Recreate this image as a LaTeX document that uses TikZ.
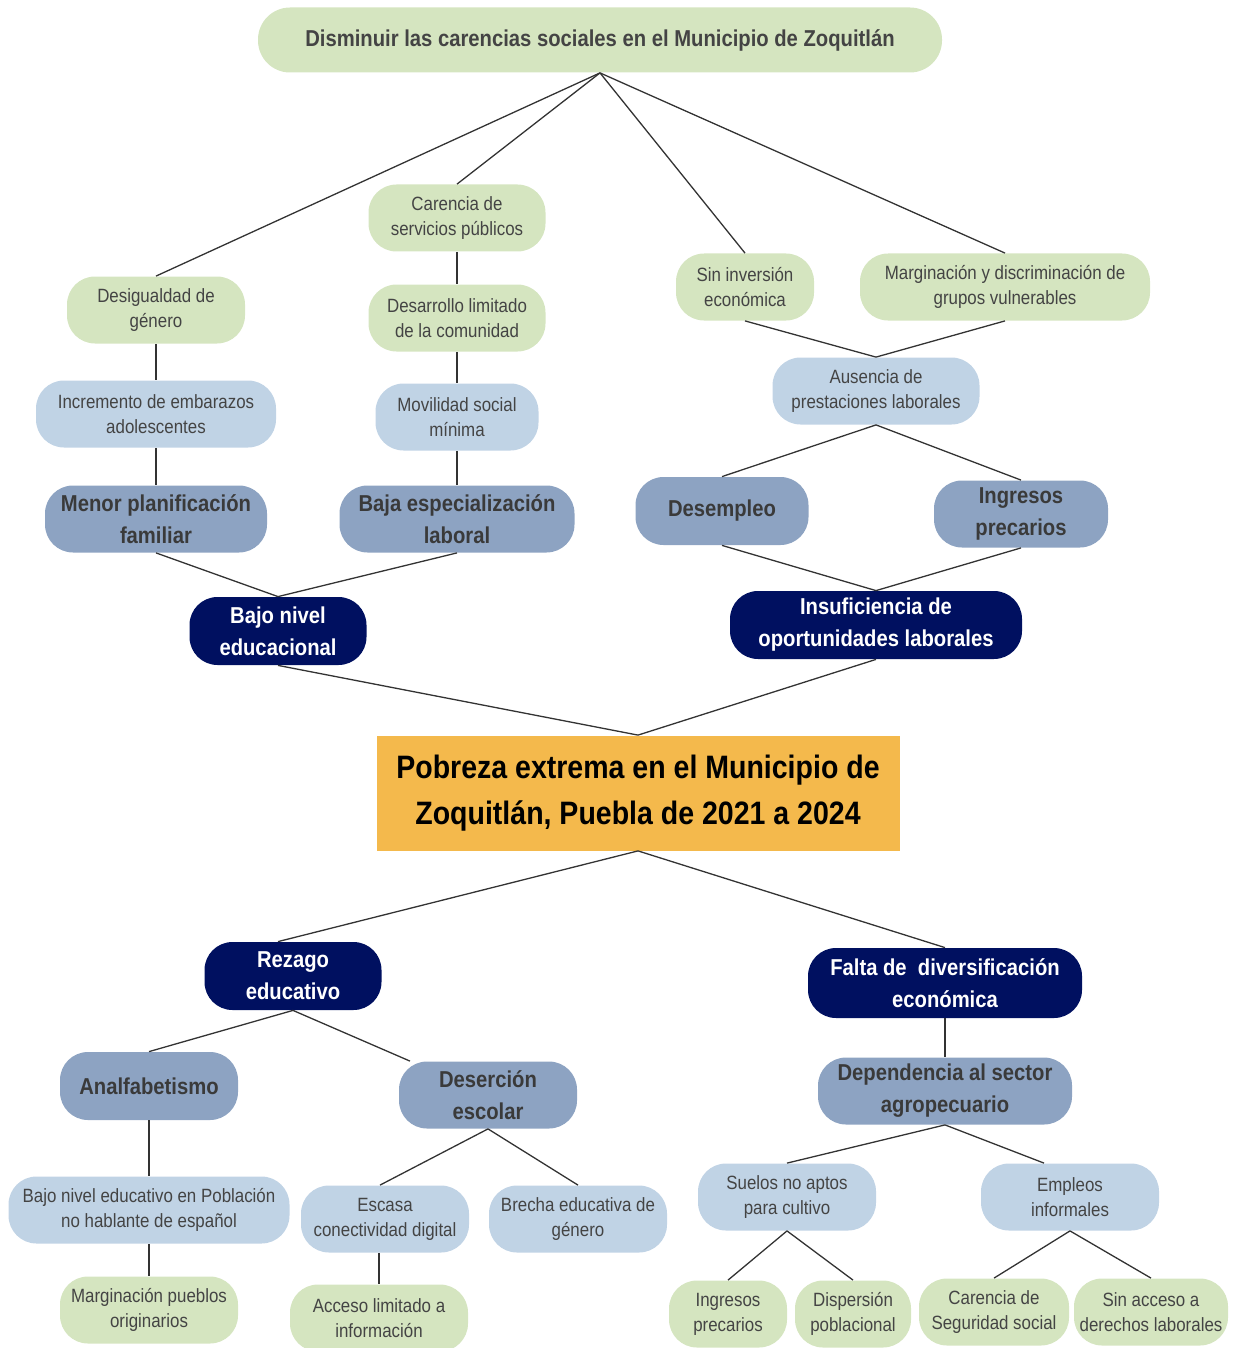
\documentclass[tikz,border=0pt]{standalone}
\usepackage{fontspec}
\setmainfont{Liberation Sans}[FakeStretch=0.88]
\usepackage{tikz}

\definecolor{verde}{HTML}{D5E5C0}
\definecolor{celeste}{HTML}{C0D3E5}
\definecolor{grisazul}{HTML}{8DA3C2}
\definecolor{marino}{HTML}{001060}
\definecolor{naranja}{HTML}{F4B94C}
\definecolor{texto}{HTML}{444444}
\definecolor{linea}{HTML}{333333}

\tikzset{
	caja/.style={rounded corners=14pt, minimum height=33.5pt, align=center, inner sep=1pt},
	hoja/.style={caja, fill=verde, text=texto, font=\fontsize{9.6}{12.5}\selectfont},
	rama/.style={caja, fill=celeste, text=texto, font=\fontsize{9.6}{12.5}\selectfont},
	causa/.style={caja, fill=grisazul, text=texto!85!black, font=\fontsize{11.5}{16}\selectfont\bfseries},
	efecto/.style={caja, fill=marino, text=white, font=\fontsize{11.5}{16}\selectfont\bfseries},
	every edge/.style={draw=linea, line width=0.65pt}
}

\begin{document}
\begin{tikzpicture}[x=0.5pt, y=-0.5pt]
	\useasboundingbox (0,0) rectangle (1235,1348);

	% objetivo
	\node[hoja, minimum width=342pt, minimum height=32.5pt, rounded corners=16pt, font=\fontsize{11.5}{13}\selectfont\bfseries] (titulo) at (600,40) {Disminuir las carencias sociales en el Municipio de Zoquitlán};

	% rama izquierda superior
	\node[hoja, minimum width=89pt] (desig) at (156,310) {Desigualdad de\\género};
	\node[rama, minimum width=120pt] (embarazos) at (156,414) {Incremento de embarazos\\adolescentes};
	\node[causa, minimum width=111pt] (planif) at (156,519) {Menor planificación\\familiar};
	\node[hoja, minimum width=88.5pt] (servicios) at (457,218) {Carencia de\\servicios públicos};
	\node[hoja, minimum width=88.5pt] (desarrollo) at (457,318) {Desarrollo limitado\\de la comunidad};
	\node[rama, minimum width=81.5pt] (movilidad) at (457,417) {Movilidad social\\mínima};
	\node[causa, minimum width=117.5pt] (especial) at (457,519) {Baja especialización\\laboral};
	\node[efecto, minimum width=88.5pt, minimum height=34pt] (bajonivel) at (278,631) {Bajo nivel\\educacional};

	% rama derecha superior
	\node[hoja, minimum width=69pt] (inversion) at (745,287) {Sin inversión\\económica};
	\node[hoja, minimum width=145pt] (margina) at (1005,287) {Marginación y discriminación de\\grupos vulnerables};
	\node[rama, minimum width=103.5pt] (prestac) at (876,391) {Ausencia de\\prestaciones laborales};
	\node[causa, minimum width=86.5pt, minimum height=34pt] (desempleo) at (722,511) {Desempleo};
	\node[causa, minimum width=87pt] (ingresos) at (1021,514) {Ingresos\\precarios};
	\node[efecto, minimum width=146pt, minimum height=34pt] (insuf) at (876,625) {Insuficiencia de\\oportunidades laborales};

	% problema central
	\node[fill=naranja, minimum width=261.5pt, minimum height=57.5pt, align=center, font=\fontsize{16.2}{23}\selectfont\bfseries] (pobreza) at (638,793) {Pobreza extrema en el Municipio de\\Zoquitlán, Puebla de 2021 a 2024};

	% rama izquierda inferior
	\node[efecto, minimum width=88.5pt, minimum height=34pt] (rezago) at (293,976) {Rezago\\educativo};
	\node[causa, minimum width=89pt, minimum height=34pt] (analfa) at (149,1086) {Analfabetismo};
	\node[causa, minimum width=89pt] (desercion) at (488,1095) {Deserción\\escolar};
	\node[rama, minimum width=140.5pt] (nohabla) at (149,1210) {Bajo nivel educativo en Población\\no hablante de español};
	\node[hoja, minimum width=89pt] (pueblos) at (149,1310) {Marginación pueblos\\originarios};
	\node[rama, minimum width=84pt] (conect) at (385,1219) {Escasa\\conectividad digital};
	\node[rama, minimum width=89pt] (brecha) at (578,1219) {Brecha educativa de\\género};
	\node[hoja, minimum width=89pt] (acceso) at (379,1318) {Acceso limitado a\\información};

	% rama derecha inferior
	\node[efecto, minimum width=137pt, minimum height=35pt] (diversif) at (945,983) {Falta de~ diversificación\\económica};
	\node[causa, minimum width=127pt] (agro) at (945,1091) {Dependencia al sector\\agropecuario};
	\node[rama, minimum width=89pt] (suelos) at (787,1197) {Suelos no aptos\\para cultivo};
	\node[rama, minimum width=89pt] (informal) at (1070,1197) {Empleos\\informales};
	\node[hoja, minimum width=59pt] (ingresosb) at (728,1314) {Ingresos\\precarios};
	\node[hoja, minimum width=58pt] (dispersion) at (853,1314) {Dispersión\\poblacional};
	\node[hoja, minimum width=75pt] (seguridad) at (994,1312) {Carencia de\\Seguridad social};
	\node[hoja, minimum width=77pt] (derechos) at (1151,1312) {Sin acceso a\\derechos laborales};

	% conectores
	\path [-] (titulo.south) edge (desig.north);
	\path [-] (titulo.south) edge (servicios.north);
	\path [-] (titulo.south) edge (inversion.north);
	\path [-] (titulo.south) edge (margina.north);
	\path [-] (desig) edge (embarazos);
	\path [-] (embarazos) edge (planif);
	\path [-] (servicios) edge (desarrollo);
	\path [-] (desarrollo) edge (movilidad);
	\path [-] (movilidad) edge (especial);
	\path [-] (planif.south) edge (bajonivel.north);
	\path [-] (especial.south) edge (bajonivel.north);
	\path [-] (inversion.south) edge (prestac.north);
	\path [-] (margina.south) edge (prestac.north);
	\path [-] (prestac.south) edge (desempleo.north);
	\path [-] (prestac.south) edge (ingresos.north);
	\path [-] (desempleo.south) edge (insuf.north);
	\path [-] (ingresos.south) edge (insuf.north);
	\path [-] (bajonivel.south) edge (pobreza.north);
	\path [-] (insuf.south) edge (pobreza.north);
	\path [-] (pobreza.south) edge ([xshift=-7.5pt]rezago.north);
	\path [-] (pobreza.south) edge (diversif.north);
	\path [-] (rezago.south) edge (analfa.north);
	\path [-] (rezago.south) edge ([xshift=-39pt]desercion.north);
	\path [-] (analfa) edge (nohabla);
	\path [-] (nohabla) edge (pueblos);
	\path [-] (desercion.south) edge ([xshift=-2.5pt]conect.north);
	\path [-] (desercion.south) edge (brecha.north);
	\path [-] ([xshift=-3pt]conect.south) edge (acceso.north);
	\path [-] (diversif) edge (agro);
	\path [-] (agro.south) edge (suelos.north);
	\path [-] (agro.south) edge ([xshift=-13pt]informal.north);
	\path [-] (suelos.south) edge (ingresosb.north);
	\path [-] (suelos.south) edge (dispersion.north);
	\path [-] (informal.south) edge (seguridad.north);
	\path [-] (informal.south) edge (derechos.north);
\end{tikzpicture}
\end{document}
